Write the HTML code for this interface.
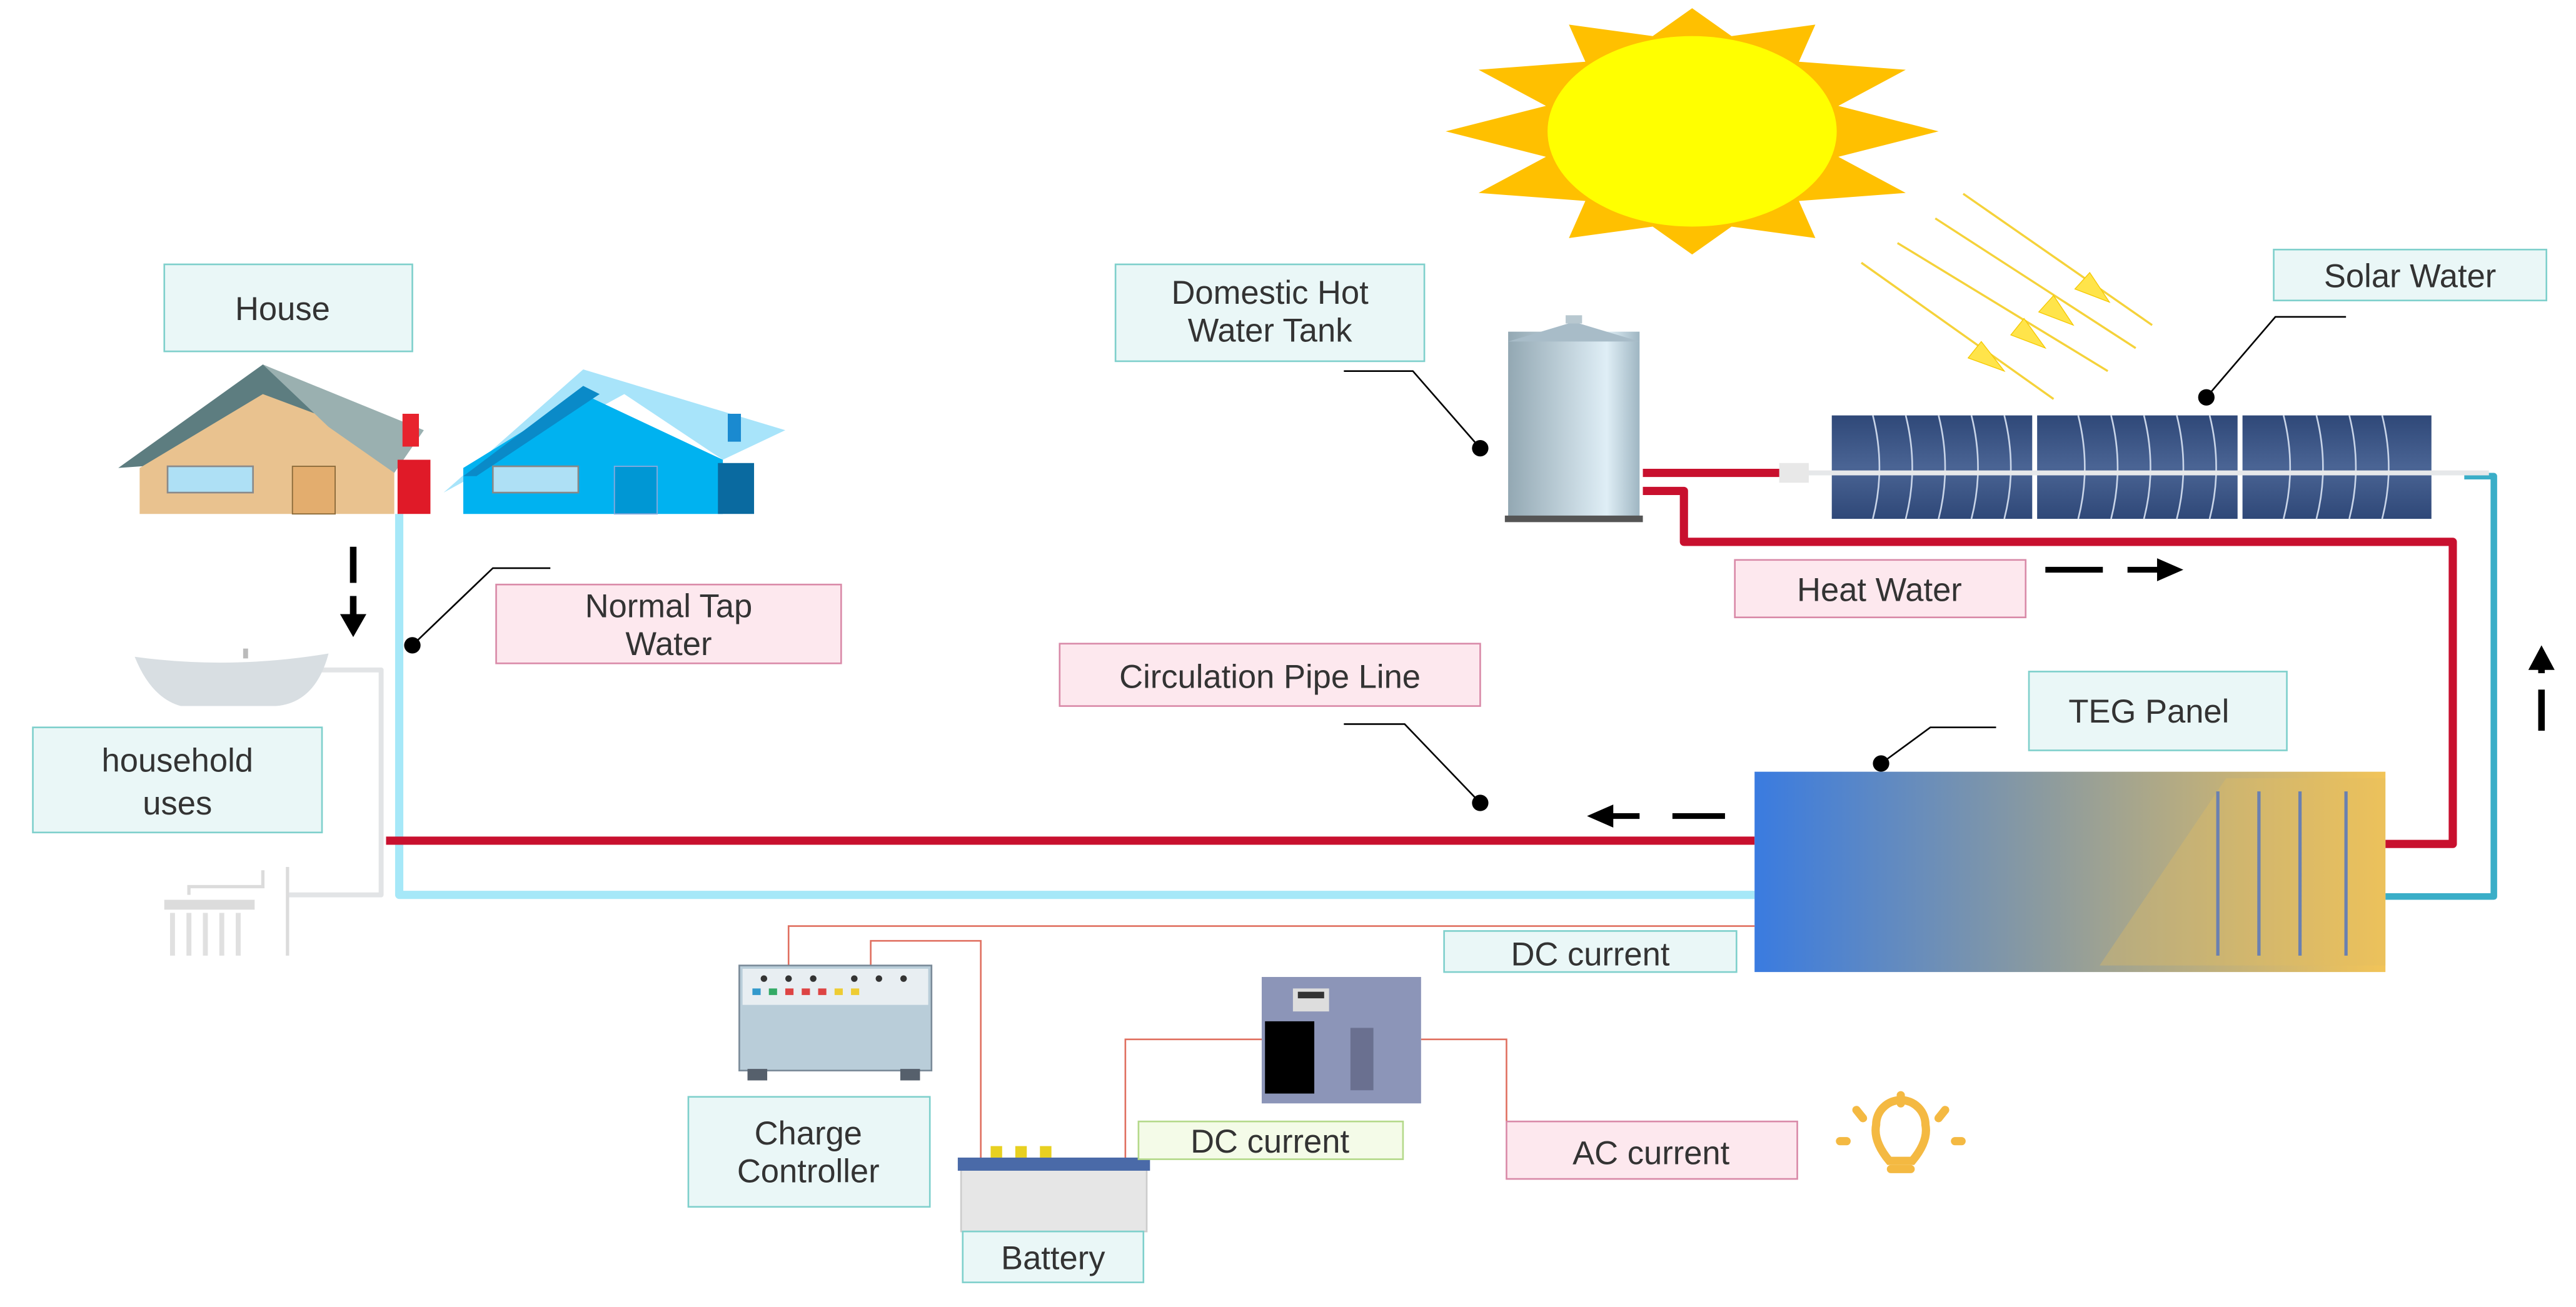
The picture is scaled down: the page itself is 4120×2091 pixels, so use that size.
<!DOCTYPE html>
<html><head><meta charset="utf-8"><style>
html,body{margin:0;padding:0;background:#fff}
svg{display:block}
text{font-family:"Liberation Sans",sans-serif;fill:#333;font-size:20px}
</style></head><body>
<svg width="4120" height="2091" viewBox="0 0 1568 796" preserveAspectRatio="none" xmlns="http://www.w3.org/2000/svg">
<defs>
<linearGradient id="teg" x1="0" x2="1"><stop offset="0" stop-color="#3a7be0"/><stop offset="0.45" stop-color="#8a9aa0"/><stop offset="1" stop-color="#f2c458"/></linearGradient>
<linearGradient id="tank" x1="0" x2="1"><stop offset="0" stop-color="#93a8b3"/><stop offset="0.75" stop-color="#dfeef6"/><stop offset="1" stop-color="#9fb6c2"/></linearGradient>
<linearGradient id="pan" x1="0" y1="0" x2="0" y2="1"><stop offset="0" stop-color="#2f4878"/><stop offset="0.5" stop-color="#4a6494"/><stop offset="1" stop-color="#2f4878"/></linearGradient>
</defs>
<!-- sun -->
<polygon fill="#ffc000" points="1180,80 1119,95.5 1160,117.5 1095,122.4 1105,145 1054,138 1030,155 1006,138 955,145 965,122.4 900,117.5 941,95.5 880,80 941,64.5 900,42.5 965,37.6 955,15 1006,22 1030,5 1054,22 1105,15 1095,37.6 1160,42.5 1119,64.5"/>
<ellipse cx="1030" cy="80" rx="88" ry="58" fill="#ffff00"/>
<!-- rays -->
<g stroke="#f5d23a" stroke-width="1.3">
<line x1="1133" y1="160" x2="1250" y2="243"/><line x1="1155" y1="148" x2="1283" y2="226"/><line x1="1178" y1="133" x2="1300" y2="212"/><line x1="1195" y1="118" x2="1310" y2="198"/>
</g>
<g fill="#ffe44a" stroke="#f5c800" stroke-width="0.5">
<polygon points="1220,226 1206,208 1198,218"/><polygon points="1245,212 1232,194 1224,204"/><polygon points="1262,198 1250,180 1241,190"/><polygon points="1284,184 1272,166 1263,176"/>
</g>
<!-- pipes -->
<g fill="none" stroke-linejoin="round">
<path d="M243 313 V545 H1068" stroke="#a6e8f8" stroke-width="5"/>
<path d="M235 512 H1068" stroke="#c8102e" stroke-width="5"/>
<path d="M1000 288 H1085" stroke="#c8102e" stroke-width="5"/>
<path d="M1000 299 H1025 V330 H1493 V514 H1452" stroke="#c8102e" stroke-width="5"/>
<path d="M1500 290 H1518 V546 H1452" stroke="#3aaec8" stroke-width="4"/>
<path d="M195 408 H232 V545 H175" stroke="#e2e4e6" stroke-width="3"/>
</g>
<!-- solar collector -->
<g>
<rect x="1115" y="253" width="122" height="63" fill="url(#pan)"/>
<rect x="1240" y="253" width="122" height="63" fill="url(#pan)"/>
<rect x="1365" y="253" width="115" height="63" fill="url(#pan)"/>
<g stroke="#c8d4e8" stroke-width="1" fill="none">
<path d="M1140 253 q8 32 0 63 M1160 253 q8 32 0 63 M1180 253 q8 32 0 63 M1200 253 q8 32 0 63 M1220 253 q8 32 0 63"/>
<path d="M1265 253 q8 32 0 63 M1285 253 q8 32 0 63 M1305 253 q8 32 0 63 M1325 253 q8 32 0 63 M1345 253 q8 32 0 63"/>
<path d="M1390 253 q8 32 0 63 M1410 253 q8 32 0 63 M1430 253 q8 32 0 63 M1450 253 q8 32 0 63"/>
</g>
<line x1="1085" y1="288" x2="1515" y2="288" stroke="#e6e8ea" stroke-width="3"/>
<rect x="1083" y="282" width="18" height="12" fill="#e8e8e8"/>
</g>
<!-- tank -->
<rect x="918" y="202" width="80" height="114" fill="url(#tank)"/>
<polygon points="918,208 958,196 998,208" fill="#a8bcc8"/>
<rect x="953" y="192" width="10" height="5" fill="#b8c8d0"/>
<rect x="916" y="314" width="84" height="4" fill="#555"/>
<!-- TEG -->
<rect x="1068" y="470" width="384" height="122" fill="url(#teg)"/>
<polygon points="1278,588 1355,474 1452,474 1452,588" fill="#e2bd60" opacity="0.35"/>
<g stroke="#6a80b0" stroke-width="2"><line x1="1375" y1="482" x2="1375" y2="582"/><line x1="1400" y1="482" x2="1400" y2="582"/><line x1="1428" y1="482" x2="1428" y2="582"/><line x1="1350" y1="482" x2="1350" y2="582"/></g>
<!-- houses -->
<polygon points="72,285 160,222 252,262 240,270 100,283" fill="#5d7d80"/>
<polygon points="85,285 160,240 240,270 240,313 85,313" fill="#e9c28f"/>
<polygon points="160,222 258,262 240,288 200,260" fill="#9ab0b0"/>
<rect x="102" y="284" width="52" height="16" fill="#aee0f5" stroke="#8a8a8a"/>
<rect x="178" y="284" width="26" height="29" fill="#e3ad6e" stroke="#8a6a3a" stroke-width="0.7"/>
<rect x="242" y="280" width="20" height="33" fill="#e01a28"/>
<rect x="245" y="252" width="10" height="20" fill="#e8232e"/>
<polygon points="270,300 355,225 478,262 440,280 380,240" fill="#a8e4fa"/>
<polygon points="282,313 282,285 355,240 440,280 440,313" fill="#00b2f0"/>
<polygon points="282,290 355,235 365,240 290,290" fill="#0a8ac8"/>
<rect x="300" y="284" width="52" height="16" fill="#aee0f5" stroke="#888"/>
<rect x="374" y="284" width="26" height="29" fill="#0097d4" stroke="#8ad" stroke-width="0.7"/>
<rect x="437" y="282" width="22" height="31" fill="#0a6aa0"/>
<rect x="443" y="252" width="8" height="17" fill="#1a8ad0"/>
<!-- bathtub & shower -->
<path d="M82 400 Q140 408 200 398 Q192 428 168 430 L110 430 Q92 425 82 400Z" fill="#d8dee2"/>
<rect x="148" y="395" width="3" height="6" fill="#bbb"/>
<g stroke="#dcdcdc" stroke-width="2" fill="none"><path d="M115 545 V540 H160 V530 M175 528 V582"/></g>
<g stroke="#e0e0e0" stroke-width="3"><line x1="105" y1="556" x2="105" y2="582"/><line x1="115" y1="556" x2="115" y2="582"/><line x1="125" y1="556" x2="125" y2="582"/><line x1="135" y1="556" x2="135" y2="582"/><line x1="145" y1="556" x2="145" y2="582"/></g>
<rect x="100" y="548" width="55" height="6" fill="#dcdcdc"/>
<!-- arrows -->
<g fill="#000" stroke="#000">
<line x1="215" y1="333" x2="215" y2="355" stroke-width="4"/><line x1="215" y1="363" x2="215" y2="374" stroke-width="4"/><polygon points="207,374 223,374 215,388" stroke="none"/>
<line x1="1018" y1="497" x2="1050" y2="497" stroke-width="3.5"/><line x1="980" y1="497" x2="998" y2="497" stroke-width="3.5"/><polygon points="966,497 982,490 982,504" stroke="none"/>
<line x1="1245" y1="347" x2="1280" y2="347" stroke-width="3.5"/><line x1="1295" y1="347" x2="1315" y2="347" stroke-width="3.5"/><polygon points="1329,347 1313,340 1313,354" stroke="none"/>
<line x1="1547" y1="420" x2="1547" y2="445" stroke-width="4"/><line x1="1547" y1="405" x2="1547" y2="410" stroke-width="4"/><polygon points="1547,393 1539,408 1555,408" stroke="none"/>
</g>
<!-- leaders -->
<g stroke="#000" stroke-width="1" fill="none">
<path d="M251 393 L300 346 H335"/><path d="M901 489 L855 441 H818"/><path d="M1145 465 L1175 443 H1215"/><path d="M901 273 L860 226 H818"/><path d="M1343 242 L1385 193 H1428"/>
</g>
<g fill="#000"><circle cx="251" cy="393" r="5"/><circle cx="901" cy="489" r="5"/><circle cx="1145" cy="465" r="5"/><circle cx="901" cy="273" r="5"/><circle cx="1343" cy="242" r="5"/></g>
<!-- electric lines -->
<g stroke="#e07060" stroke-width="1" fill="none">
<path d="M1068 564 H480 V590"/><path d="M530 590 V573 H597 V708"/><path d="M685 708 V633 H768"/><path d="M865 633 H917 V683"/>
</g>
<!-- charge controller -->
<rect x="450" y="588" width="117" height="64" fill="#b9cdd9" stroke="#7a8a98"/>
<rect x="452" y="590" width="113" height="22" fill="#e8eef2"/>
<g fill="#333"><circle cx="465" cy="596" r="2"/><circle cx="480" cy="596" r="2"/><circle cx="495" cy="596" r="2"/><circle cx="520" cy="596" r="2"/><circle cx="535" cy="596" r="2"/><circle cx="550" cy="596" r="2"/></g>
<g><rect x="458" y="602" width="5" height="4" fill="#39c"/><rect x="468" y="602" width="5" height="4" fill="#3a6"/><rect x="478" y="602" width="5" height="4" fill="#d44"/><rect x="488" y="602" width="5" height="4" fill="#d44"/><rect x="498" y="602" width="5" height="4" fill="#d44"/><rect x="508" y="602" width="5" height="4" fill="#ec3"/><rect x="518" y="602" width="5" height="4" fill="#ec3"/></g>
<rect x="455" y="651" width="12" height="7" fill="#56606c"/><rect x="548" y="651" width="12" height="7" fill="#56606c"/>
<!-- battery -->
<rect x="585" y="710" width="113" height="40" fill="#e6e6e6" stroke="#ccc"/>
<rect x="583" y="705" width="117" height="8" fill="#4a6aa8"/>
<g fill="#e8d020"><rect x="603" y="698" width="7" height="7"/><rect x="618" y="698" width="7" height="7"/><rect x="633" y="698" width="7" height="7"/></g>
<!-- inverter -->
<rect x="768" y="595" width="97" height="77" fill="#8c95b8"/>
<rect x="787" y="602" width="22" height="14" fill="#ddd"/><rect x="790" y="604" width="16" height="4" fill="#333"/>
<rect x="770" y="622" width="30" height="44" fill="#000"/>
<rect x="822" y="626" width="14" height="38" fill="#6a7090"/>
<!-- bulb -->
<g fill="none" stroke="#f4b942" stroke-width="5" stroke-linecap="round">
<path d="M1150 707 Q1140 695 1142 685 A15 15 0 1 1 1172 685 Q1174 695 1164 707 Z"/>
<path d="M1151 712 H1163"/>
<line x1="1157" y1="667" x2="1157" y2="672"/><line x1="1130" y1="676" x2="1134" y2="681"/><line x1="1184" y1="676" x2="1180" y2="681"/><line x1="1120" y1="695" x2="1124" y2="695"/><line x1="1190" y1="695" x2="1194" y2="695"/>
</g>
<!-- labels -->
<g stroke-width="1">
<rect x="100" y="161" width="151" height="53" fill="#eaf7f7" stroke="#7fd0cc"/>
<rect x="302" y="356" width="210" height="48" fill="#fde8ee" stroke="#d98aa8"/>
<rect x="20" y="443" width="176" height="64" fill="#eaf7f7" stroke="#7fd0cc"/>
<rect x="645" y="392" width="256" height="38" fill="#fde8ee" stroke="#d98aa8"/>
<rect x="679" y="161" width="188" height="59" fill="#eaf7f7" stroke="#7fd0cc"/>
<rect x="1384" y="152" width="166" height="31" fill="#eaf7f7" stroke="#7fd0cc"/>
<rect x="1056" y="341" width="177" height="35" fill="#fde8ee" stroke="#d98aa8"/>
<rect x="1235" y="409" width="157" height="48" fill="#eaf7f7" stroke="#7fd0cc"/>
<rect x="879" y="567" width="178" height="25" fill="#eaf7f7" stroke="#7fd0cc"/>
<rect x="419" y="668" width="147" height="67" fill="#eaf7f7" stroke="#7fd0cc"/>
<rect x="586" y="750" width="110" height="31" fill="#eaf7f7" stroke="#7fd0cc"/>
<rect x="693" y="683" width="161" height="23" fill="#f4fbe8" stroke="#b4d98a"/>
<rect x="917" y="683" width="177" height="35" fill="#fde8ee" stroke="#d98aa8"/>
</g>
<g text-anchor="middle">
<text x="172" y="195">House</text>
<text x="407" y="376">Normal Tap</text><text x="407" y="399">Water</text>
<text x="108" y="470" font-size="22">household</text><text x="108" y="496" font-size="22">uses</text>
<text x="773" y="419">Circulation Pipe Line</text>
<text x="773" y="185">Domestic Hot</text><text x="773" y="208">Water Tank</text>
<text x="1467" y="175">Solar Water</text>
<text x="1144" y="366">Heat Water</text>
<text x="1308" y="440">TEG Panel</text>
<text x="968" y="588">DC current</text>
<text x="492" y="697">Charge</text><text x="492" y="720">Controller</text>
<text x="641" y="773">Battery</text>
<text x="773" y="702">DC current</text>
<text x="1005" y="709">AC current</text>
</g>
</svg>
</body></html>
